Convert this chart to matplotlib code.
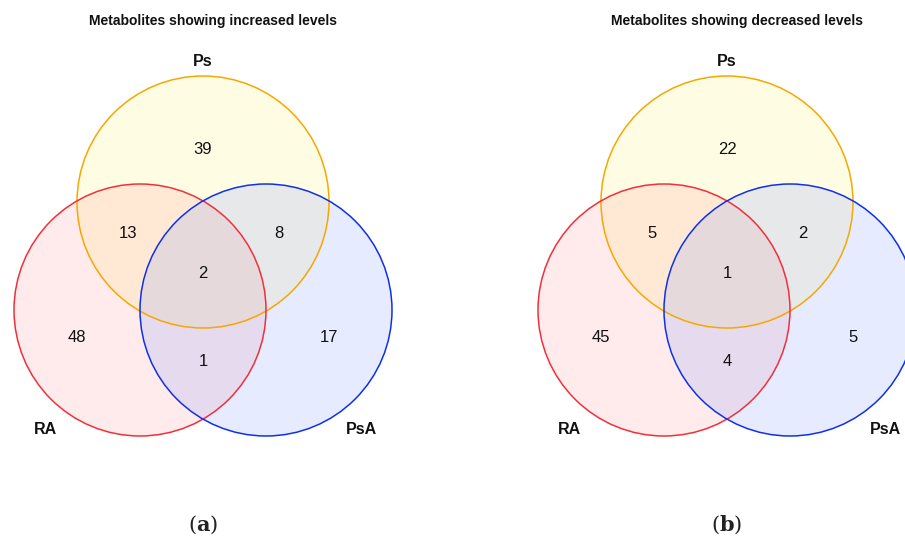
#!/usr/bin/env python3
"""Two three-set Venn diagrams of metabolite level changes (RA, Ps, PsA)."""

import matplotlib

matplotlib.use("Agg")
import matplotlib.pyplot as plt
from matplotlib.patches import Circle

# ---- data -------------------------------------------------------------
set_names = ["Ps", "RA", "PsA"]
panel_titles = ["Metabolites showing increased levels", "Metabolites showing decreased levels"]
panel_tags = ["a", "b"]

# region order: Ps only, RA&Ps, Ps&PsA, all three, RA only, PsA only, RA&PsA
region_keys = ["Ps", "RA_Ps", "Ps_PsA", "RA_Ps_PsA", "RA", "PsA", "RA_PsA"]
increased_counts = [39, 13, 8, 2, 48, 17, 1]
decreased_counts = [22, 5, 2, 1, 45, 5, 4]

# ---- style ------------------------------------------------------------
plt.rcParams["font.family"] = ["Liberation Sans", "DejaVu Sans"]
plt.rcParams["mathtext.fontset"] = "dejavuserif"

edge_colors = {"Ps": "#F5A800", "RA": "#F0303A", "PsA": "#1030E8"}
face_colors = {"Ps": "#FFF27A", "RA": "#FF8C8C", "PsA": "#7F95FF"}
face_alpha = {"Ps": 0.20, "RA": 0.17, "PsA": 0.19}

R = 126
# circle centres relative to panel origin (pixels)
centres = {"Ps": (0, -108), "RA": (-63, 0), "PsA": (63, 0)}
# label offsets relative to panel origin
region_offsets = {
    "Ps": (0, -161),
    "RA_Ps": (-75, -77),
    "Ps_PsA": (76, -77),
    "RA_Ps_PsA": (0, -37),
    "RA": (-126, 27),
    "PsA": (126, 27),
    "RA_PsA": (0, 52),
}
name_offsets = {"Ps": (0, -248), "RA": (-158, 120), "PsA": (158, 120)}

panel_origins = [(203, 310), (727, 310)]

fig = plt.figure(figsize=(9.05, 5.4), dpi=100)
ax = fig.add_axes([0, 0, 1, 1])
ax.set_xlim(0, 905)
ax.set_ylim(540, 0)
ax.set_aspect("equal")
ax.axis("off")

for (ox, oy), title, tag, counts in zip(
    panel_origins, panel_titles, panel_tags, [increased_counts, decreased_counts]
):
    for name in set_names:
        cx, cy = centres[name]
        ax.add_patch(
            Circle((ox + cx, oy + cy), R, facecolor=face_colors[name],
                   alpha=face_alpha[name], edgecolor="none", zorder=1)
        )
    for name in set_names:
        cx, cy = centres[name]
        ax.add_patch(
            Circle((ox + cx, oy + cy), R, facecolor="none",
                   edgecolor=edge_colors[name], linewidth=1.1, zorder=2)
        )

    for key, val in zip(region_keys, counts):
        dx, dy = region_offsets[key]
        ax.text(ox + dx, oy + dy, str(val), ha="center", va="center",
                fontsize=12, color="#111111", zorder=3)

    for name in set_names:
        dx, dy = name_offsets[name]
        ax.text(ox + dx, oy + dy, name, ha="center", va="center",
                fontsize=11.5, fontweight="bold", color="#111111", zorder=3)

    ax.text(ox + 10, 21, title, ha="center", va="center",
            fontsize=10, fontweight="bold", color="#111111")
    ax.text(ox, 525, "(" + r"$\mathbf{" + tag + "}$" + ")", ha="center", va="center",
            fontsize=15, family="DejaVu Serif", color="#222222")

fig.savefig("out.png", dpi=100)
